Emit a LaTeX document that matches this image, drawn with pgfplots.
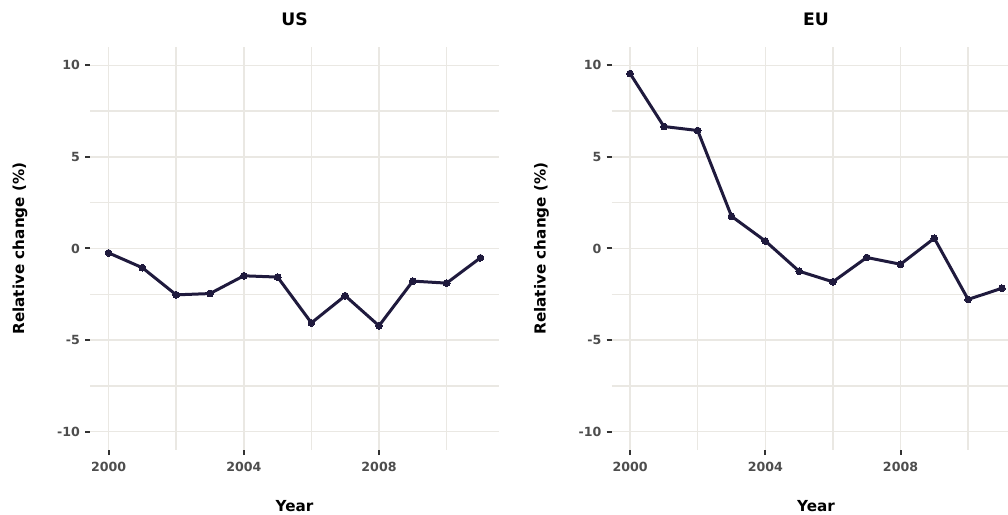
\documentclass[border=0pt]{standalone}
\usepackage{pgfplots}
\pgfplotsset{compat=1.18}
\usepackage{fontspec}
\setmainfont{DejaVu Sans}

\definecolor{lineclr}{HTML}{1F1A3D}
\definecolor{gridclr}{HTML}{EAE8E3}
\definecolor{tickclr}{HTML}{4D4D4D}
\definecolor{tickmark}{HTML}{333333}

\pgfplotstableread{
year  change
2000  -0.24
2001  -1.05
2002  -2.53
2003  -2.46
2004  -1.49
2005  -1.56
2006  -4.06
2007  -2.58
2008  -4.22
2009  -1.78
2010  -1.89
2011  -0.51
}\usdata

\pgfplotstableread{
year  change
2000   9.55
2001   6.66
2002   6.44
2003   1.76
2004   0.41
2005  -1.24
2006  -1.82
2007  -0.49
2008  -0.86
2009   0.56
2010  -2.78
2011  -2.17
}\eudata

\pgfplotsset{
  panel/.style={
    scale only axis, width=409pt, height=403pt, anchor=south west,
    xmin=1999.45, xmax=2011.55, ymin=-11, ymax=11,
    axis line style={draw=none},
    xtick={2000,2004,2008}, ytick={-10,-5,0,5,10},
    minor xtick={2002,2006,2010}, minor ytick={-7.5,-2.5,2.5,7.5},
    xtick pos=bottom, ytick pos=left,
    grid=both,
    major grid style={gridclr, line width=1.5pt},
    minor grid style={gridclr, line width=1.5pt},
    tick align=outside, major tick length=5pt, minor tick length=0pt,
    major tick style={tickmark, line width=2pt},
    xticklabel style={anchor=north, inner sep=0pt, yshift=-6.7pt},
    yticklabel style={anchor=east, inner sep=0pt, xshift=-5pt},
    x tick label style={/pgf/number format/1000 sep={}},
    /pgf/number format/assume math mode=true,
    ticklabel style={font=\fontsize{12.6}{14}\selectfont\bfseries, text=tickclr},
    xlabel={Year}, ylabel={Relative change (\%)},
    label style={font=\fontsize{15.2}{17}\selectfont\bfseries, text=black},
    xlabel style={at={(axis description cs:0.5,-0.1382)}, anchor=center},
    ylabel style={at={(axis description cs:-0.1711,0.5)}, anchor=center},
    title style={at={(axis description cs:0.5,1.0546)}, anchor=center,
      font=\fontsize{17.2}{20}\selectfont\bfseries, text=black},
    clip=false,
  },
  series/.style={lineclr, line width=3pt, mark=*, mark size=3.4pt,
    mark options={lineclr, line width=0pt}},
}

\begin{document}
\begin{tikzpicture}[x=1pt,y=1pt]
\useasboundingbox (0,0) rectangle (1008,514);

\begin{axis}[panel, at={(90pt,64pt)}, title={US}]
  \addplot[series] table[x=year, y=change] {\usdata};
\end{axis}

\begin{axis}[panel, at={(611.5pt,64pt)}, title={EU}]
  \addplot[series] table[x=year, y=change] {\eudata};
\end{axis}
\end{tikzpicture}
\end{document}
